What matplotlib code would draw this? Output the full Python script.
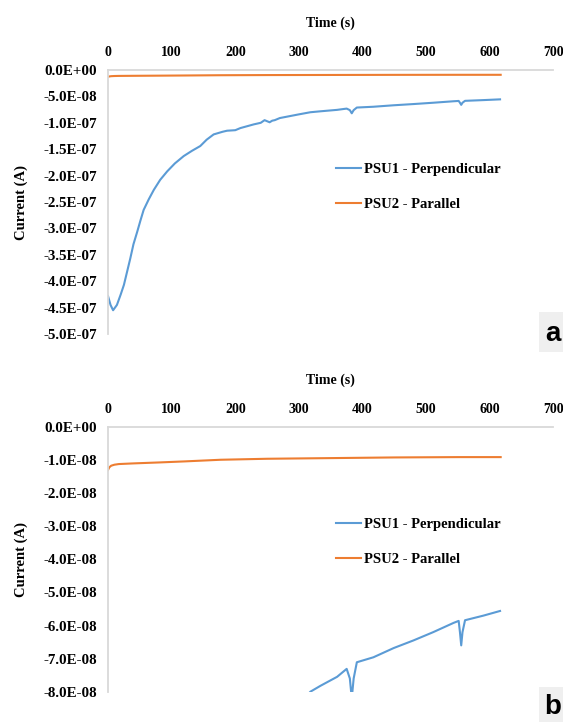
import matplotlib
matplotlib.use("Agg")
import matplotlib.pyplot as plt
from matplotlib.ticker import FuncFormatter, MultipleLocator
import numpy as np

# ---- data ----
time_psu1 = [0, 4, 8, 14, 20, 25, 30, 35, 40, 46, 51, 56, 64, 72, 82, 93, 105, 119, 132,
             145, 155, 166, 180, 187, 200, 208, 229, 240, 246, 250, 254, 258, 262, 270,
             300, 318, 334, 360, 375, 380, 383, 386, 391, 417, 449, 480, 511, 543, 551,
             553, 555, 557, 561, 590, 616]
current_psu1 = [-4.28e-7, -4.45e-7, -4.55e-7, -4.45e-7, -4.25e-7, -4.07e-7, -3.82e-7,
                -3.57e-7, -3.30e-7, -3.06e-7, -2.85e-7, -2.65e-7, -2.45e-7, -2.27e-7,
                -2.08e-7, -1.92e-7, -1.77e-7, -1.63e-7, -1.53e-7, -1.44e-7, -1.32e-7,
                -1.22e-7, -1.17e-7, -1.15e-7, -1.14e-7, -1.10e-7, -1.03e-7, -1.00e-7,
                -0.95e-7, -0.97e-7, -0.99e-7, -0.96e-7, -0.95e-7, -0.91e-7,
                -0.84e-7, -0.80e-7, -0.782e-7, -0.755e-7, -0.731e-7, -0.76e-7, -0.82e-7,
                -0.76e-7, -0.711e-7, -0.696e-7, -0.668e-7, -0.645e-7, -0.620e-7,
                -0.592e-7, -0.586e-7, -0.62e-7, -0.66e-7, -0.62e-7, -0.584e-7,
                -0.570e-7, -0.556e-7]

time_psu2 = [0, 2, 5, 10, 17, 40, 82, 120, 177, 250, 350, 450, 550, 617]
current_psu2 = [-1.30e-8, -1.22e-8, -1.17e-8, -1.14e-8, -1.12e-8, -1.10e-8, -1.07e-8,
                -1.04e-8, -0.99e-8, -0.96e-8, -0.94e-8, -0.92e-8, -0.91e-8, -0.91e-8]

series_labels = ["PSU1 - Perpendicular", "PSU2 - Parallel"]
panel_letters = ["a", "b"]
ylims = [(-5.0e-7, 0.0), (-8.0e-8, 0.0)]
ysteps = [5.0e-8, 1.0e-8]
xlim = (0, 700)

# ---- style ----
BLUE = "#5B9BD5"
ORANGE = "#ED7D31"
GRID = "#D9D9D9"
W, H = 563, 722
serif = ["Liberation Serif", "DejaVu Serif"]

fig = plt.figure(figsize=(W / 100, H / 100), dpi=100)

def px_rect(left, top, right, bottom):
    return [left / W, 1 - bottom / H, (right - left) / W, (bottom - top) / H]

rects = [px_rect(108, 70, 553.5, 334), px_rect(108, 427, 553.5, 691.7)]
legend_anchor = [(336, 163), (336, 518)]
letter_box = [(539, 312, 352), (539, 687, 722)]

fmt = FuncFormatter(lambda v, p: format(v, ".1E") if abs(v) > 1e-20 else "0.0E+00")

for i in range(2):
    ax = fig.add_axes(rects[i])
    ax.plot(time_psu1, current_psu1, color=BLUE, lw=1.5, label=series_labels[0],
            solid_joinstyle="round")
    ax.plot(time_psu2, current_psu2, color=ORANGE, lw=1.5, label=series_labels[1])
    ax.set_xlim(*xlim)
    ax.set_ylim(*ylims[i])
    ax.xaxis.tick_top()
    ax.xaxis.set_label_position("top")
    ax.xaxis.set_major_locator(MultipleLocator(100))
    ax.yaxis.set_major_locator(MultipleLocator(ysteps[i]))
    ax.yaxis.set_major_formatter(fmt)
    for s in ["right", "bottom"]:
        ax.spines[s].set_visible(False)
    for s in ["top", "left"]:
        ax.spines[s].set_color(GRID)
        ax.spines[s].set_linewidth(1.3)
    ax.tick_params(length=0, pad=8)
    for lab in ax.get_xticklabels():
        lab.set_fontfamily(serif)
        lab.set_fontweight("bold")
        lab.set_fontsize(10)
    for lab in ax.get_yticklabels():
        lab.set_fontfamily(serif)
        lab.set_fontweight("bold")
        lab.set_fontsize(10.8)
    ax.set_xlabel("Time (s)", fontfamily=serif, fontweight="bold", fontsize=10, labelpad=14)
    ax.set_ylabel("Current (A)", fontfamily=serif, fontweight="bold", fontsize=10.5, labelpad=11)

    lx, ly = legend_anchor[i]
    leg = ax.legend(loc="upper left", bbox_to_anchor=(lx / W, 1 - ly / H),
                    bbox_transform=fig.transFigure, frameon=False, borderpad=0,
                    handlelength=1.7, handletextpad=0.2, labelspacing=1.49,
                    prop={"family": serif, "weight": "bold", "size": 10.5}, borderaxespad=0)

    bx, btop, bbot = letter_box[i]
    fig.patches.append(plt.Rectangle((bx / W, 1 - bbot / H), (W - bx) / W, (bbot - btop) / H,
                                     transform=fig.transFigure, facecolor="#EFEFEF",
                                     edgecolor="none", zorder=5))
    fig.text((bx + 14) / W, 1 - ((btop + bbot) / 2 + 2) / H, panel_letters[i],
             ha="center", va="center", fontsize=20, fontweight="bold",
             family=["Liberation Sans", "DejaVu Sans"], zorder=6)

fig.savefig("out.png", dpi=100)
